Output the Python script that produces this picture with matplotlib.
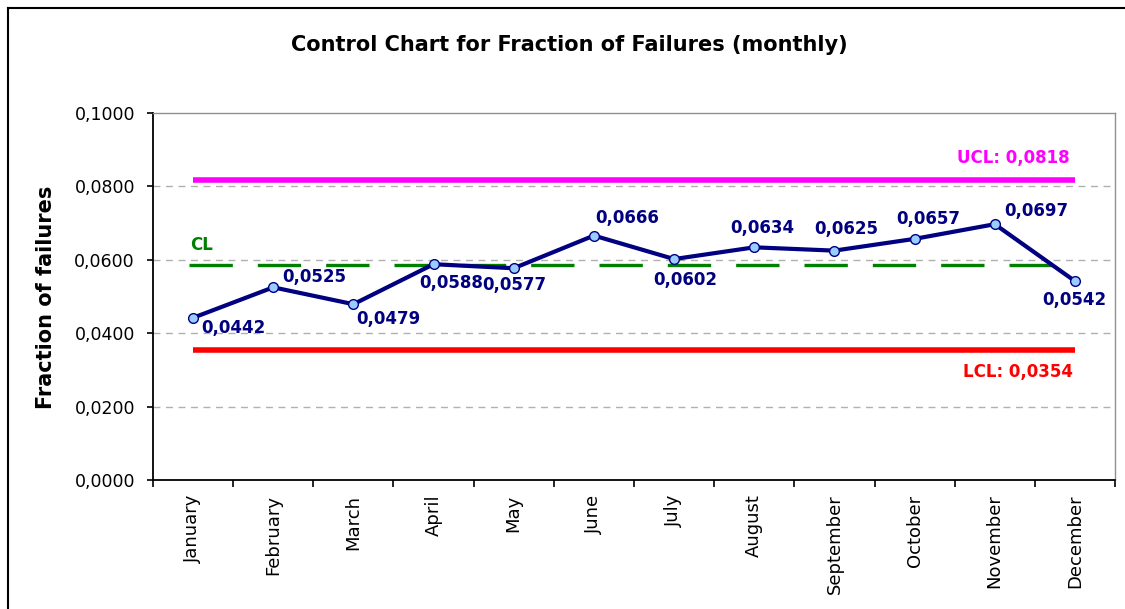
import matplotlib
matplotlib.use("Agg")
import matplotlib.pyplot as plt
from matplotlib.ticker import FixedLocator, FuncFormatter
from matplotlib.lines import Line2D

months = ["January", "February", "March", "April", "May", "June", "July",
          "August", "September", "October", "November", "December"]
fractions = [0.0442, 0.0525, 0.0479, 0.0588, 0.0577, 0.0666, 0.0602,
             0.0634, 0.0625, 0.0657, 0.0697, 0.0542]
ucl = 0.0818
lcl = 0.0354
cl = 0.0586
y_ticks = [0.0, 0.02, 0.04, 0.06, 0.08, 0.10]

plt.rcParams['font.family'] = ['DejaVu Sans']

W, H = 1125, 609
fig = plt.figure(figsize=(W / 100, H / 100), dpi=100)

# outer chart frame
fig.add_artist(Line2D([8 / W, 8 / W], [0, 1 - 8 / H], transform=fig.transFigure, color='black', lw=1.5))
fig.add_artist(Line2D([8 / W, 1], [1 - 8 / H, 1 - 8 / H], transform=fig.transFigure, color='black', lw=1.5))

left, right, top, bottom = 153, 1115, 113, 480
ax = fig.add_axes([left / W, 1 - bottom / H, (right - left) / W, (bottom - top) / H])

x = list(range(len(months)))
ax.set_xlim(-0.5, len(months) - 0.5)
ax.set_ylim(0, 0.1)

# grid
for yv in y_ticks[1:-1]:
    ax.axhline(yv, color='#b0b0b0', lw=1, ls=(0, (5, 4)), zorder=0)

# control lines
ax.plot([x[0], x[-1]], [ucl, ucl], color='#ff00ff', lw=4, solid_capstyle='butt', zorder=2)
ax.plot([x[0], x[-1]], [lcl, lcl], color='#ff0000', lw=4, solid_capstyle='butt', zorder=2)
ax.plot([x[0] - 0.05, x[-1] - 0.02], [cl, cl], color='#008000', lw=2.4,
        dashes=(13, 7.5), zorder=2)

# series
ax.plot(x, fractions, color='#000080', lw=3, marker='o', markersize=7,
        markerfacecolor='#99ccff', markeredgecolor='#000080', markeredgewidth=1, zorder=3)

# data labels (offsets in pixels: dx, dy)
offsets = [(40, -10), (41, 10), (35, -15), (18, -19), (1, -17), (33, 18), (11, -21),
           (8, 19), (12, 22), (14, 20), (42, 13), (-1, -19)]
for xi, yi, (dx, dy) in zip(x, fractions, offsets):
    ax.annotate(f"{yi:.4f}".replace('.', ','), (xi, yi), xytext=(dx, dy),
                textcoords='offset pixels', ha='center', va='center',
                fontsize=12, fontweight='bold', color='#000080', zorder=4)

ax.annotate(f"UCL: {ucl:.4f}".replace('.', ','), (x[-1], ucl), xytext=(-5, 22),
            textcoords='offset pixels', ha='right', va='center', fontsize=12,
            fontweight='bold', color='#ff00ff')
ax.annotate(f"LCL: {lcl:.4f}".replace('.', ','), (x[-1], lcl), xytext=(-2, -22),
            textcoords='offset pixels', ha='right', va='center', fontsize=12,
            fontweight='bold', color='#ff0000')
ax.annotate("CL", (x[0], cl), xytext=(-3, 20), textcoords='offset pixels',
            ha='left', va='center', fontsize=12, fontweight='bold', color='#008000')

# axes styling
for s in ['top', 'right']:
    ax.spines[s].set_color('#909090')
    ax.spines[s].set_linewidth(1)
for s in ['left', 'bottom']:
    ax.spines[s].set_color('black')
    ax.spines[s].set_linewidth(1.3)

ax.yaxis.set_major_locator(FixedLocator(y_ticks))
ax.yaxis.set_major_formatter(FuncFormatter(lambda v, p: f"{v:.4f}".replace('.', ',')))
ax.tick_params(axis='y', direction='out', length=4.5, width=1.2, pad=8.5, labelsize=12.5)

ax.set_xticks(x)
ax.set_xticklabels(months, rotation=90, fontsize=13)
ax.tick_params(axis='x', which='major', length=0, pad=10.5)
ax.set_xticks([i - 0.5 for i in range(len(months) + 1)], minor=True)
ax.tick_params(axis='x', which='minor', direction='out', length=5, width=1.2)

fig.text(46 / W, 1 - 297 / H, "Fraction of failures", rotation=90, ha='center', va='center',
         fontsize=15, fontweight='bold')
fig.text(569 / W, 1 - 45 / H, "Control Chart for Fraction of Failures (monthly)",
         ha='center', va='center', fontsize=15, fontweight='bold')

fig.savefig("out.png", dpi=100)
